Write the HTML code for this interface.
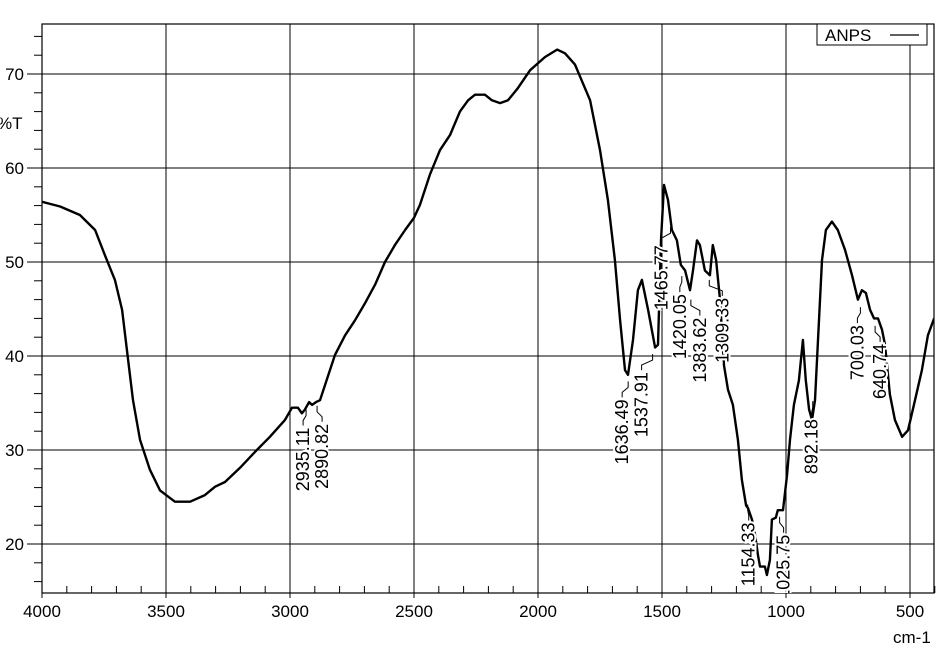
<!DOCTYPE html>
<html><head><meta charset="utf-8"><style>
html,body{margin:0;padding:0;background:#fff}
svg{display:block;font-family:"Liberation Sans",Arial,sans-serif}
</style></head><body>
<svg id="chart" width="946" height="645" viewBox="0 0 946 645" xmlns="http://www.w3.org/2000/svg">
<defs><clipPath id="pc"><rect x="42" y="24" width="892" height="569"/></clipPath></defs>
<g id="grid"></g>
<g id="axes"></g>
<g id="series" clip-path="url(#pc)"></g>
<g id="labels" clip-path="url(#pc)"></g>
<text x="-3" y="129" font-size="17">%T</text>
<text x="893" y="643" font-size="17">cm-1</text>
<g>
<rect x="817" y="24" width="110" height="21" fill="#fff" stroke="#000" stroke-width="1"/>
<text x="825" y="41" font-size="17">ANPS</text>
<line x1="890" y1="35" x2="919" y2="35" stroke="#000" stroke-width="1.2"/>
</g>
</svg>
<script>
const wavenumbers=[4000,3927,3847,3786,3746,3706,3677,3653,3633,3605,3565,3524,3464,3403,3343,3302,3262,3202,3141,3081,3020,2992,2968,2952,2940,2923,2911,2895,2879,2859,2819,2778,2738,2698,2657,2617,2577,2536,2500,2476,2436,2395,2355,2315,2282,2254,2214,2186,2153,2121,2081,2032,1972,1923,1891,1851,1790,1750,1718,1690,1669,1649,1637,1617,1597,1581,1556,1528,1516,1504,1492,1476,1460,1440,1424,1407,1387,1375,1359,1347,1327,1307,1295,1282,1266,1250,1234,1214,1194,1178,1161,1153,1137,1125,1113,1105,1085,1077,1065,1057,1041,1033,1024,1012,996,984,968,948,932,920,907,895,883,871,855,839,815,791,762,734,710,694,678,661,645,629,613,601,581,561,532,508,480,452,428,403];
const transmittance=[56.4,55.9,55.0,53.4,50.7,48.1,44.9,39.6,35.3,31.1,27.9,25.7,24.5,24.5,25.2,26.1,26.6,28.1,29.8,31.4,33.2,34.5,34.5,33.9,34.3,35.1,34.8,35.1,35.3,36.9,40.1,42.2,43.8,45.6,47.6,50.0,51.8,53.4,54.7,56.1,59.3,61.9,63.5,66.0,67.2,67.8,67.8,67.2,66.9,67.2,68.5,70.4,71.8,72.6,72.2,71.0,67.2,61.9,56.6,50.2,43.8,38.5,38.0,41.7,47.0,48.1,44.9,40.9,41.2,52.3,58.2,56.6,53.4,52.3,49.7,49.1,47.0,49.1,52.3,51.8,49.1,48.6,51.8,50.2,46.0,39.0,36.4,34.8,31.1,26.8,24.1,23.8,22.6,21.0,18.8,17.6,17.6,16.7,18.3,22.6,22.8,23.6,23.6,23.6,27.3,31.1,34.8,37.4,41.7,37.4,34.3,33.2,35.3,41.7,50.2,53.4,54.3,53.4,51.3,48.6,46.0,47.0,46.7,44.9,44.0,44.0,42.8,41.2,35.9,33.2,31.4,32.1,35.3,38.5,42.2,44.0];
const xTicks=[4000,3500,3000,2500,2000,1500,1000,500];
const yTicks=[20,30,40,50,60,70];
const peakLabels=["2935.11","2890.82","1636.49","1537.91","1465.77","1420.05","1383.62","1309.33","1154.33","1025.75","892.18","700.03","640.74"];
const peakPos=[2935.11,2890.82,1636.49,1537.91,1465.77,1420.05,1383.62,1309.33,1154.33,1025.75,892.18,700.03,640.74];
const peakLabelTop=[32.6,33.0,35.6,38.5,52.0,46.8,44.3,46.4,22.5,21.2,33.5,43.5,41.5];
const labelShift=[-3,5,-6,-11,-9,-2,9,13,1,4,-1,-3,5];

const X0=42,X1=934,Y0=24,Y1=593;
const sx=w=>X0+(4000-w)*0.248;
const sy=t=>74+(70-t)*9.4;
const NS="http://www.w3.org/2000/svg";
function mk(tag,attrs,parent){const e=document.createElementNS(NS,tag);for(const k in attrs)e.setAttribute(k,attrs[k]);parent.appendChild(e);return e;}
const grid=document.getElementById('grid'),axes=document.getElementById('axes'),series=document.getElementById('series'),labels=document.getElementById('labels');

xTicks.forEach(v=>{
  const x=sx(v);
  const l=mk('line',{x1:x,y1:Y0,x2:x,y2:598,stroke:'#000','stroke-width':1},grid);
  
  
  const t=mk('text',{x:x,y:617,'font-size':17,'text-anchor':'middle'},axes);
  t.textContent=v;
  
  
});
for(let w=4000;w>=400;w-=100){
  if(w%500===0)continue;
  const x=sx(w);
  const m=mk('line',{x1:x,y1:Y1,x2:x,y2:Y1-7,stroke:'#000','stroke-width':1},axes);
  
  
}
yTicks.forEach(v=>{
  const y=sy(v);
  const l=mk('line',{x1:27,y1:y,x2:X1,y2:y,stroke:'#000','stroke-width':1},grid);
  
  
  const t=mk('text',{x:24,y:y+6,'font-size':17,'text-anchor':'end'},axes);
  t.textContent=v;
  
  
});
for(let v=16;v<=74;v+=2){
  if(v%10===0)continue;
  const y=sy(v);
  const m=mk('line',{x1:34,y1:y,x2:X0,y2:y,stroke:'#000','stroke-width':1},axes);
  
  
}
const fr=mk('rect',{x:X0,y:Y0,width:X1-X0,height:Y1-Y0,fill:'none',stroke:'#000','stroke-width':1.2},axes);



const d=wavenumbers.map((w,i)=>(i?'L':'M')+sx(w).toFixed(1)+','+sy(transmittance[i]).toFixed(1)).join(' ');
const p=mk('path',{d:d,fill:'none',stroke:'#000','stroke-width':2.4,'stroke-linejoin':'round'},series);



peakLabels.forEach((s,i)=>{
  const px=sx(peakPos[i]), y=sy(peakLabelTop[i]), lx=px+labelShift[i];
  const ln=mk('polyline',{points:`${px},${y-16} ${px},${y-10} ${lx},${y-5} ${lx},${y}`,fill:'none',stroke:'#000','stroke-width':1},labels);
  
  
  const t=mk('text',{x:0,y:0,'font-size':18,'text-anchor':'end',transform:`translate(${lx+6},${y+2}) rotate(-90)`,fill:'#000',stroke:'#fff','stroke-width':4,'paint-order':'stroke'},labels);
  t.textContent=s;
  
  
});
</script>
</body></html>
